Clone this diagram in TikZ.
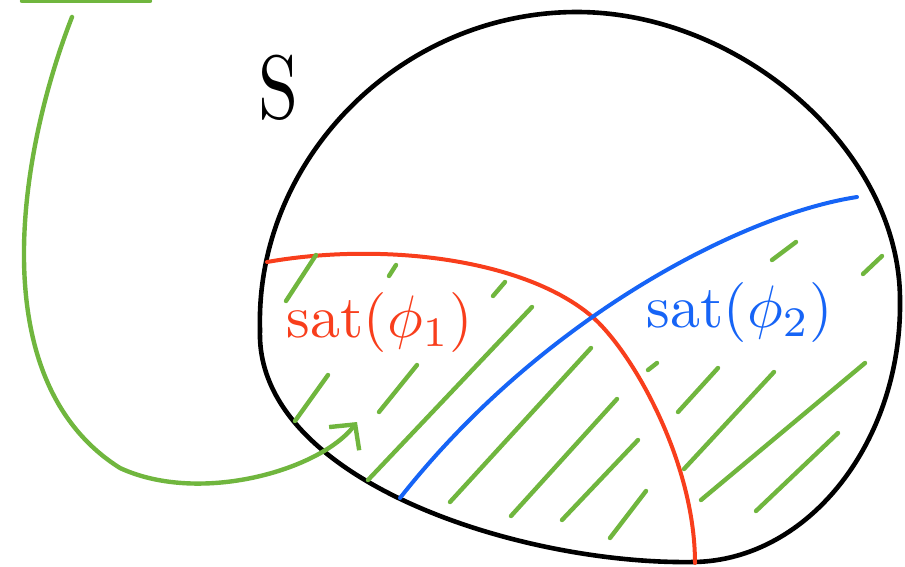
\documentclass[tikz,border=0pt]{standalone}
\usepackage{tikz}
\usetikzlibrary{arrows.meta}
\definecolor{chalkred}{RGB}{248,62,28}
\definecolor{chalkblue}{RGB}{22,100,246}
\definecolor{chalkgreen}{RGB}{112,182,62}
\tikzset{
  outline/.style  = {line width=4.6pt, black, line cap=round, line join=round},
  redcut/.style   = {line width=4pt, chalkred, line cap=round},
  bluecut/.style  = {line width=4pt, chalkblue, line cap=round},
  hatch/.style    = {line width=4.4pt, chalkgreen, line cap=round},
  pointer/.style  = {hatch, -{Straight Barb[length=18pt,width=38pt,line width=4.4pt]}},
  redlbl/.style   = {text=chalkred, scale=6},
  bluelbl/.style  = {text=chalkblue, scale=6},
}

\begin{document}
\begin{tikzpicture}[x=1pt, y=-1pt]
  \useasboundingbox (0,0) rectangle (905,566);
  \coordinate (top) at (577,12);
  \coordinate (right) at (900,300);
  \coordinate (bottom) at (694,562);
  \coordinate (left) at (260,330);
  \draw[outline] (top) .. controls (740,12) and (900,150) .. (right)
    .. controls (902,440) and (810,560) .. (bottom)
    .. controls (520,565) and (255,480) .. (left)
    .. controls (255,160) and (400,12) .. (top) -- cycle;
  \node[scale=9, xscale=0.8] (setS) at (279,88) {S};
  \coordinate (cross) at (589,314);
  \draw[redcut] (267,262) .. controls (380,242) and (520,258) .. (cross)
    .. controls (630,347) and (695,460) .. (695,563);
  \draw[bluecut] (857,197) .. controls (740,215) and (540,320) .. (400,498);
  \foreach \xa/\ya/\xb/\yb in {
      286/301/316/255, 389/276/396/265, 493/296/505/282,
      295/421/328/375, 379/412/417/365, 368/480/532/307,
      450/502/591/348, 511/516/617/399, 562/520/638/440,
      610/538/646/491, 648/370/657/363, 678/412/718/368,
      684/469/774/372, 701/500/865/363, 756/511/838/433,
      772/260/796/242, 863/274/882/256}
    \draw[hatch] (\xa,\ya) -- (\xb,\yb);
  \node[redlbl] (satone) at (380,322) {sat($\phi_1$)};
  \node[bluelbl] (sattwo) at (740,312) {sat($\phi_2$)};
  \draw[hatch] (22,1) -- (150,1);
  \coordinate (from) at (72,17);
  \coordinate (into) at (357,422);
  \draw[pointer] (from) .. controls (20,150) and (-20,380) .. (120,468)
    .. controls (200,505) and (320,470) .. (into);
\end{tikzpicture}
\end{document}
